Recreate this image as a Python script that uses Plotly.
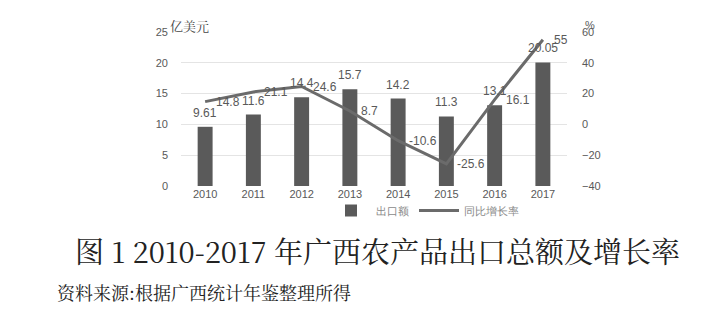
import plotly.graph_objects as go

years = ["2010", "2011", "2012", "2013", "2014", "2015", "2016", "2017"]
export_value = [9.61, 11.6, 14.4, 15.7, 14.2, 11.3, 13.1, 20.05]
growth_rate = [14.8, 21.1, 24.6, 8.7, -10.6, -25.6, 16.1, 55]
left_ticks = [0, 5, 10, 15, 20, 25]
right_ticks = [-40, -20, 0, 20, 40, 60]

W, H = 718, 321
L, R, T, B = 181, 567, 32, 186

def px(x):
    return (x - L) / (R - L)

def py(y):
    return (B - y) / (B - T)

NUMFONT = dict(size=12, color="#595959", family="Liberation Sans, Arial")

fig = go.Figure()
fig.add_trace(go.Bar(
    x=years, y=export_value, name="出口额",
    marker=dict(color="#5a5a5a", line=dict(width=0)),
    width=0.31,
))
fig.add_trace(go.Scatter(
    x=years, y=growth_rate, name="同比增长率", yaxis="y2",
    mode="lines",
    line=dict(color="#6b6b6b", width=3),
    cliponaxis=False,
))

annotations = []
for i, v in enumerate(export_value):
    annotations.append(dict(text=str(v), x=i, y=v, xref="x", yref="y",
                            xanchor="center", yanchor="middle", yshift=14,
                            showarrow=False, font=NUMFONT))
for i, v in enumerate(growth_rate):
    annotations.append(dict(text=str(v), x=i, y=v, xref="x", yref="y2",
                            xanchor="left", yanchor="middle", xshift=9,
                            showarrow=False, font=NUMFONT))

annotations += [
    dict(text="亿美元", x=px(168), y=py(25), xref="paper", yref="paper",
         xanchor="left", yanchor="middle", showarrow=False,
         font=dict(size=13, color="#444", family="Noto Serif CJK SC, Noto Sans CJK SC")),
    dict(text="%", x=px(590), y=py(25), xref="paper", yref="paper",
         xanchor="center", yanchor="middle", showarrow=False,
         font=dict(size=11, color="#595959")),
    dict(text="图 1 2010-2017 年广西农产品出口总额及增长率",
         x=px(377), y=py(250), xref="paper", yref="paper",
         xanchor="center", yanchor="middle", showarrow=False,
         font=dict(size=29, color="#222", family="Noto Serif CJK SC, Noto Sans CJK SC")),
    dict(text="资料来源:根据广西统计年鉴整理所得",
         x=px(55), y=py(292), xref="paper", yref="paper",
         xanchor="left", yanchor="middle", showarrow=False,
         font=dict(size=18, color="#222", family="Noto Serif CJK SC, Noto Sans CJK SC")),
]

fig.update_layout(
    width=W, height=H,
    margin=dict(l=L, r=W - R, t=T, b=H - B),
    paper_bgcolor="white", plot_bgcolor="white",
    font=dict(family="Liberation Sans, Arial", color="#595959", size=11),
    xaxis=dict(type="category", range=[-0.5, len(years) - 0.5],
               showgrid=False, showline=False, ticks="",
               tickfont=dict(size=11, color="#595959")),
    yaxis=dict(range=[0, 25], tickvals=left_ticks, showgrid=True,
               gridcolor="#e4e4e4", gridwidth=1, zeroline=False,
               showline=False, ticks="", ticklabelstandoff=12,
               tickfont=dict(size=11, color="#595959")),
    yaxis2=dict(range=[-40, 60], tickvals=right_ticks, overlaying="y",
                side="right", showgrid=False, zeroline=False, showline=False,
                ticks="", ticklabelstandoff=14,
                tickfont=dict(size=11, color="#595959")),
    showlegend=True,
    legend=dict(orientation="h", x=px(425), xanchor="center", y=py(196),
                yanchor="top", font=dict(size=11, color="#8a8a8a"),
                bgcolor="rgba(0,0,0,0)", itemwidth=40, tracegroupgap=0),
    annotations=annotations,
)

fig.write_html("out.html")
